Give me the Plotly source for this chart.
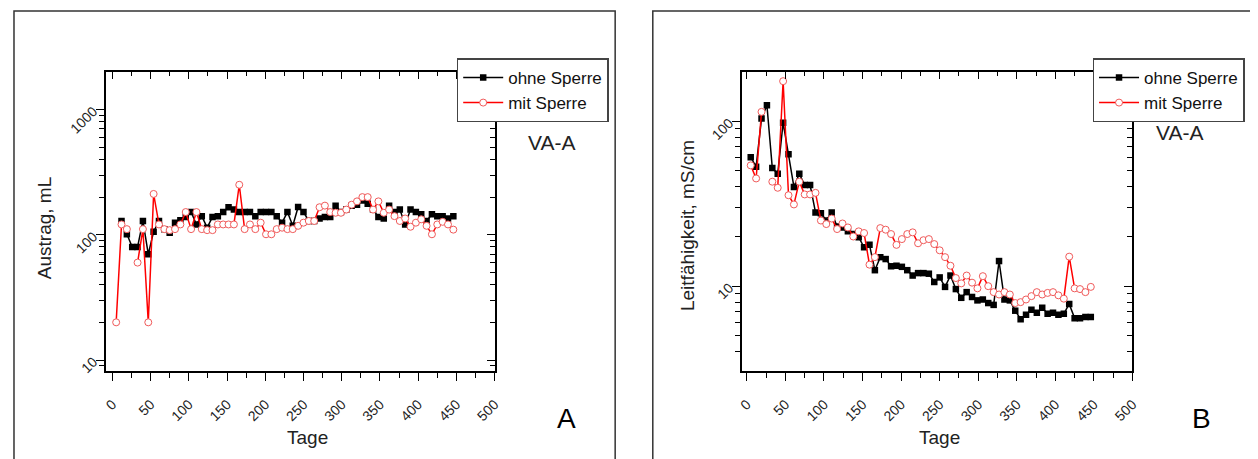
import plotly.graph_objects as go

# ---------------- data ----------------
days = [5, 12, 19, 26, 33, 40, 47, 54, 61, 68, 75, 82, 89, 96, 103, 110, 117, 124, 131, 138,
        145, 152, 159, 166, 173, 180, 187, 194, 201, 208, 215, 222, 229, 236, 243, 250, 257,
        264, 271, 278, 285, 292, 299, 306, 313, 320, 327, 334, 341, 348, 355, 362, 369, 376,
        383, 390, 397, 404, 411, 418, 425, 432, 439, 446]

# Panel A: Austrag, mL
austrag_ohne = [None, 129, 101, 80, 80, 129, 70, 106, 129, 111, 104, 125, 131, 139, 152, 121,
                141, 114, 139, 141, 152, 166, 159, 152, 152, 152, 141, 152, 152, 152, 141, 125,
                152, 118, 167, 152, 129, 129, 135, 139, 139, 171, 152, 159, 171, 174, 188, 177,
                159, 139, 135, 171, 152, 159, 121, 159, 152, 146, 129, 146, 141, 141, 135, 141]
austrag_mit = [20, 121, 111, None, 60, 111, 20, 212, 121, 111, 109, 111, 121, 152, 111, 152,
               111, 109, 109, 121, 121, 121, 121, 251, 111, 121, 111, 125, 101, 101, 111, 114,
               111, 111, 118, 125, 129, 129, 166, 171, 152, 150, 150, 159, 174, 185, 200, 200,
               159, 185, 150, 159, 141, 129, 135, 116, 125, 133, 118, 101, 121, 127, 121, 110]

# Panel B: Leitfähigkeit, mS/cm
leit_ohne = [60.5, 53, 104, 125, 52, 48, 98, 63, 40, 48, 41, 41, 28, 27.7, 25, 28, 23, 22.7,
             21.5, 20.7, 19.8, 17.2, 17.8, 12.5, 15, 14.6, 13.2, 13.3, 13.1, 12.5, 11.6, 12, 12,
             11.9, 10.6, 11.3, 9.9, 11.6, 9.6, 8.5, 9.2, 8.6, 8.2, 8.3, 7.9, 7.7, 14.2, 8.3, 8.2,
             7.1, 6.3, 6.7, 7.2, 6.9, 7.4, 6.8, 6.9, 6.7, 6.8, 7.8, 6.4, 6.4, 6.5, 6.5]
leit_mit = [54, 45, 114, None, 43, 39.5, 175, 35.6, 31.3, 43, 36, 36, 36.8, 25, 23.8, 25.7,
            22.2, 24, 22.7, 20, 21.5, 21, 13.5, 15, 22.5, 22, 20.7, 17.8, 19.3, 20.7, 21.2,
            18.2, 19, 19.3, 18, 16.5, 15, 13.3, 11.2, 10.4, 11.6, 10.5, 9.7, 11.5, 10, 9.2,
            8.9, 9.2, 8.9, 7.9, 8, 8.3, 8.7, 9.2, 8.9, 9.1, 9.2, 8.8, 8.4, 15.1, 9.7, 9.6,
            9.2, 9.9]

x_ticks = [0, 50, 100, 150, 200, 250, 300, 350, 400, 450, 500]
x_minor = [25, 75, 125, 175, 225, 275, 325, 375, 425, 475]
yA_ticks = [10, 100, 1000]
yB_ticks = [10, 100]
y_minor = [2, 3, 4, 5, 6, 7, 8, 9, 20, 30, 40, 50, 60, 70, 80, 90,
           200, 300, 400, 500, 600, 700, 800, 900]

series_names = ["ohne Sperre", "mit Sperre"]

# ---------------- figure ----------------
OFF = 8  # default page body margin
W, H = 1258 - OFF, 459 - OFF
FONT = "Arial, Liberation Sans, sans-serif"


def px(x):
    return (x - OFF) / W


def py(y):
    return 1 - (y - OFF) / H


fig = go.Figure()

black_line = dict(color="black", width=1.5)
black_marker = dict(symbol="square", size=6.5, color="black")
red_line = dict(color="#ff0000", width=1.5)
red_marker = dict(symbol="circle", size=7, color="white",
                  line=dict(color="rgb(240,90,90)", width=1))

fig.add_trace(go.Scatter(x=days, y=austrag_ohne, name=series_names[0], mode="lines+markers",
                         line=black_line, marker=black_marker, xaxis="x", yaxis="y",
                         legend="legend", connectgaps=False))
fig.add_trace(go.Scatter(x=days, y=austrag_mit, name=series_names[1], mode="lines+markers",
                         line=red_line, marker=red_marker, xaxis="x", yaxis="y",
                         legend="legend", connectgaps=False))
fig.add_trace(go.Scatter(x=days, y=leit_ohne, name=series_names[0], mode="lines+markers",
                         line=black_line, marker=black_marker, xaxis="x2", yaxis="y2",
                         legend="legend2", connectgaps=False))
fig.add_trace(go.Scatter(x=days, y=leit_mit, name=series_names[1], mode="lines+markers",
                         line=red_line, marker=red_marker, xaxis="x2", yaxis="y2",
                         legend="legend2", connectgaps=False))
# dummy traces to hold the mirrored (inside-tick) top/right axes
fig.add_trace(go.Scatter(x=[], y=[], xaxis="x3", yaxis="y3", showlegend=False, hoverinfo="skip"))
fig.add_trace(go.Scatter(x=[], y=[], xaxis="x4", yaxis="y4", showlegend=False, hoverinfo="skip"))

ydom = [py(375), py(73)]
xdomA = [px(101.7), px(494.3)]
xdomB = [px(744), px(1138.3)]
xrA = [-8.55, 500]
xrB = [-6.4, 500]
yrA = [0.913, 3.298]
yrB = [0.486, 2.297]

tickfont = dict(family=FONT, size=14, color="#222")


def xaxis_main(dom, rng, anchor):
    return dict(domain=dom, anchor=anchor, range=rng, tickmode="array", tickvals=x_ticks,
                ticks="outside", ticklen=8, tickwidth=1.3, tickcolor="black",
                minor=dict(tickvals=x_minor, ticks="outside", ticklen=5, tickwidth=1.3,
                           tickcolor="black", showgrid=False),
                showline=True, mirror=True, linecolor="black", linewidth=1.5,
                tickangle=-45, tickfont=tickfont, ticklabelstandoff=10,
                showgrid=False, zeroline=False)


def yaxis_main(dom, rng, anchor, tv):
    return dict(domain=dom, anchor=anchor, type="log", range=rng, tickmode="array",
                tickvals=tv, ticktext=[str(v) for v in tv],
                ticks="outside", ticklen=8, tickwidth=1.3, tickcolor="black",
                minor=dict(tickvals=y_minor, ticks="outside", ticklen=5, tickwidth=1.3,
                           tickcolor="black", showgrid=False),
                showline=True, mirror=True, linecolor="black", linewidth=1.5,
                tickangle=-45, tickfont=tickfont, showgrid=False, zeroline=False)


def xaxis_top(over, rng, anchor):
    return dict(overlaying=over, side="top", anchor=anchor, range=rng, tickmode="array",
                tickvals=x_ticks, ticks="inside", ticklen=7, tickwidth=1.3, tickcolor="black",
                minor=dict(tickvals=x_minor, ticks="inside", ticklen=4, tickwidth=1.3,
                           tickcolor="black", showgrid=False),
                showticklabels=False, showline=False, showgrid=False, zeroline=False)


def yaxis_right(over, rng, anchor, tv):
    return dict(overlaying=over, side="right", anchor=anchor, type="log", range=rng,
                tickmode="array", tickvals=tv, ticks="inside", ticklen=8, tickwidth=1.3,
                tickcolor="black",
                minor=dict(tickvals=y_minor, ticks="inside", ticklen=5, tickwidth=1.3,
                           tickcolor="black", showgrid=False),
                showticklabels=False, showline=False, showgrid=False, zeroline=False)


legend_common = dict(xanchor="left", yanchor="top", bgcolor="white", bordercolor="#444",
                     borderwidth=1.5, font=dict(family=FONT, size=17, color="#111"),
                     tracegroupgap=0, itemwidth=40)

fig.update_layout(
    width=W, height=H, margin=dict(l=0, r=0, t=0, b=0),
    paper_bgcolor="white", plot_bgcolor="white",
    font=dict(family=FONT),
    xaxis=xaxis_main(xdomA, xrA, "y"),
    yaxis=yaxis_main(ydom, yrA, "x", yA_ticks),
    xaxis2=xaxis_main(xdomB, xrB, "y2"),
    yaxis2=yaxis_main(ydom, yrB, "x2", yB_ticks),
    xaxis3=xaxis_top("x", xrA, "y"),
    yaxis3=yaxis_right("y", yrA, "x", yA_ticks),
    xaxis4=xaxis_top("x2", xrB, "y2"),
    yaxis4=yaxis_right("y2", yrB, "x2", yB_ticks),
    legend=dict(x=px(456), y=py(59), **legend_common),
    legend2=dict(x=px(1098), y=py(59), **legend_common),
    showlegend=True,
)

# outer frames
frame = dict(color="#333", width=1.5)
fig.add_shape(type="rect", xref="paper", yref="paper", x0=px(9), x1=px(616),
              y0=-0.1, y1=py(11), line=frame, fillcolor="rgba(0,0,0,0)", layer="below")
fig.add_shape(type="rect", xref="paper", yref="paper", x0=px(654), x1=px(1275),
              y0=-0.1, y1=py(11), line=frame, fillcolor="rgba(0,0,0,0)", layer="below")

labfont = dict(family=FONT, size=19, color="#222")
annots = [
    dict(text="Tage", x=px(305), y=py(442), font=labfont),
    dict(text="Tage", x=px(943), y=py(442), font=labfont),
    dict(text="Austrag, mL", x=px(40), y=py(231), textangle=-90, font=labfont),
    dict(text="Leitfähigkeit, mS/cm", x=px(689), y=py(228), textangle=-90, font=labfont),
    dict(text="VA-A", x=px(552), y=py(144), font=dict(family=FONT, size=21, color="#222")),
    dict(text="VA-A", x=px(1186), y=py(134), font=dict(family=FONT, size=21, color="#222")),
    dict(text="A", x=px(567), y=py(423), font=dict(family=FONT, size=28, color="black")),
    dict(text="B", x=px(1208), y=py(423), font=dict(family=FONT, size=28, color="black")),
]
for a in annots:
    fig.add_annotation(xref="paper", yref="paper", showarrow=False,
                       xanchor="center", yanchor="middle", **a)

fig.write_html("out.html")
